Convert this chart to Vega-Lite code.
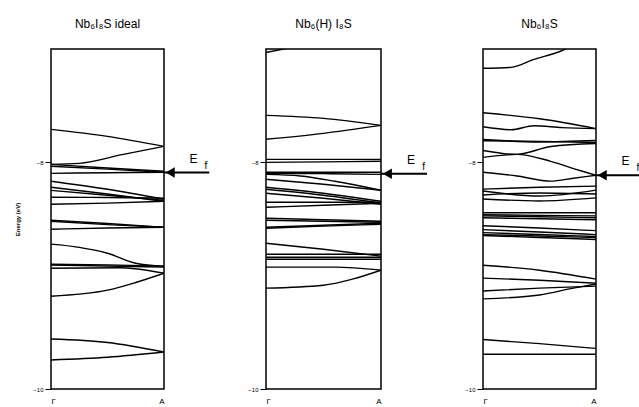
{
  "$schema": "https://vega.github.io/schema/vega-lite/v6.json",
  "background": "white",
  "padding": {"left": 14, "top": 17, "right": 0, "bottom": 0},
  "bounds": "flush",
  "spacing": 102,
  "config": {
    "view": {"stroke": "black", "strokeWidth": 1.5},
    "font": "Liberation Sans",
    "title": {"fontSize": 12, "fontWeight": "normal", "offset": 18, "color": "black", "font": "Liberation Sans"},
    "axis": {"labelColor": "black", "titleColor": "black", "tickColor": "black", "labelFont": "Liberation Sans", "titleFont": "Liberation Sans"}
  },
  "datasets": {
    "bands": [
      {"p":1,"b":"a","k":0,"e":-7.709},{"p":1,"b":"a","k":0.5,"e":-7.771},{"p":1,"b":"a","k":1,"e":-7.859},
      {"p":1,"b":"b","k":0,"e":-8.018},{"p":1,"b":"b","k":0.25,"e":-8.009},{"p":1,"b":"b","k":0.64,"e":-7.93},{"p":1,"b":"b","k":1,"e":-7.859},
      {"p":1,"b":"c","k":0,"e":-8.018},{"p":1,"b":"c","k":0.5,"e":-8.05},{"p":1,"b":"c","k":1,"e":-8.079},
      {"p":1,"b":"d","k":0,"e":-8.035},{"p":1,"b":"d","k":0.5,"e":-8.06},{"p":1,"b":"d","k":1,"e":-8.088},
      {"p":1,"b":"e","k":0,"e":-8.097},{"p":1,"b":"e","k":0.5,"e":-8.092},{"p":1,"b":"e","k":1,"e":-8.088},
      {"p":1,"b":"f","k":0,"e":-8.167},{"p":1,"b":"f","k":0.5,"e":-8.238},{"p":1,"b":"f","k":1,"e":-8.326},
      {"p":1,"b":"g","k":0,"e":-8.22},{"p":1,"b":"g","k":0.5,"e":-8.28},{"p":1,"b":"g","k":1,"e":-8.344},
      {"p":1,"b":"h","k":0,"e":-8.247},{"p":1,"b":"h","k":0.5,"e":-8.29},{"p":1,"b":"h","k":1,"e":-8.335},
      {"p":1,"b":"i","k":0,"e":-8.308},{"p":1,"b":"i","k":0.5,"e":-8.31},{"p":1,"b":"i","k":1,"e":-8.317},
      {"p":1,"b":"j","k":0,"e":-8.37},{"p":1,"b":"j","k":0.5,"e":-8.36},{"p":1,"b":"j","k":1,"e":-8.344},
      {"p":1,"b":"k","k":0,"e":-8.511},{"p":1,"b":"k","k":0.5,"e":-8.54},{"p":1,"b":"k","k":1,"e":-8.573},
      {"p":1,"b":"l","k":0,"e":-8.52},{"p":1,"b":"l","k":0.5,"e":-8.55},{"p":1,"b":"l","k":1,"e":-8.573},
      {"p":1,"b":"m","k":0,"e":-8.59},{"p":1,"b":"m","k":0.5,"e":-8.58},{"p":1,"b":"m","k":1,"e":-8.573},
      {"p":1,"b":"n","k":0,"e":-8.722},{"p":1,"b":"n","k":0.25,"e":-8.75},{"p":1,"b":"n","k":0.5,"e":-8.802},{"p":1,"b":"n","k":0.75,"e":-8.89},{"p":1,"b":"n","k":1,"e":-8.916},
      {"p":1,"b":"o","k":0,"e":-8.899},{"p":1,"b":"o","k":0.5,"e":-8.905},{"p":1,"b":"o","k":1,"e":-8.916},
      {"p":1,"b":"p","k":0,"e":-8.907},{"p":1,"b":"p","k":0.5,"e":-8.915},{"p":1,"b":"p","k":1,"e":-8.925},
      {"p":1,"b":"q","k":0,"e":-8.934},{"p":1,"b":"q","k":0.6,"e":-8.93},{"p":1,"b":"q","k":1,"e":-8.978},
      {"p":1,"b":"r","k":0,"e":-9.181},{"p":1,"b":"r","k":0.5,"e":-9.128},{"p":1,"b":"r","k":0.75,"e":-9.06},{"p":1,"b":"r","k":1,"e":-8.978},
      {"p":1,"b":"s","k":0,"e":-9.559},{"p":1,"b":"s","k":0.5,"e":-9.59},{"p":1,"b":"s","k":1,"e":-9.674},
      {"p":1,"b":"t","k":0,"e":-9.744},{"p":1,"b":"t","k":0.5,"e":-9.72},{"p":1,"b":"t","k":1,"e":-9.674},

      {"p":2,"b":"a","k":0,"e":-7.031},{"p":2,"b":"a","k":0.15,"e":-7.0},{"p":2,"b":"a","k":0.4,"e":-6.95},{"p":2,"b":"a","k":1,"e":-6.85},
      {"p":2,"b":"b","k":0,"e":-7.586},{"p":2,"b":"b","k":0.5,"e":-7.612},{"p":2,"b":"b","k":1,"e":-7.674},
      {"p":2,"b":"c","k":0,"e":-7.797},{"p":2,"b":"c","k":0.5,"e":-7.744},{"p":2,"b":"c","k":1,"e":-7.674},
      {"p":2,"b":"d","k":0,"e":-7.974},{"p":2,"b":"d","k":0.5,"e":-7.974},{"p":2,"b":"d","k":1,"e":-7.974},
      {"p":2,"b":"e","k":0,"e":-8.0},{"p":2,"b":"e","k":0.5,"e":-7.996},{"p":2,"b":"e","k":1,"e":-7.991},
      {"p":2,"b":"f","k":0,"e":-8.088},{"p":2,"b":"f","k":0.5,"e":-8.088},{"p":2,"b":"f","k":1,"e":-8.088},
      {"p":2,"b":"g","k":0,"e":-8.097},{"p":2,"b":"g","k":0.5,"e":-8.1},{"p":2,"b":"g","k":1,"e":-8.106},
      {"p":2,"b":"h","k":0,"e":-8.106},{"p":2,"b":"h","k":0.3,"e":-8.12},{"p":2,"b":"h","k":0.6,"e":-8.167},{"p":2,"b":"h","k":1,"e":-8.247},
      {"p":2,"b":"i","k":0,"e":-8.15},{"p":2,"b":"i","k":0.5,"e":-8.194},{"p":2,"b":"i","k":1,"e":-8.247},
      {"p":2,"b":"j","k":0,"e":-8.22},{"p":2,"b":"j","k":0.5,"e":-8.273},{"p":2,"b":"j","k":1,"e":-8.344},
      {"p":2,"b":"k","k":0,"e":-8.238},{"p":2,"b":"k","k":0.5,"e":-8.291},{"p":2,"b":"k","k":1,"e":-8.361},
      {"p":2,"b":"l","k":0,"e":-8.273},{"p":2,"b":"l","k":0.5,"e":-8.317},{"p":2,"b":"l","k":1,"e":-8.37},
      {"p":2,"b":"m","k":0,"e":-8.352},{"p":2,"b":"m","k":0.5,"e":-8.352},{"p":2,"b":"m","k":1,"e":-8.352},
      {"p":2,"b":"n","k":0,"e":-8.396},{"p":2,"b":"n","k":0.5,"e":-8.379},{"p":2,"b":"n","k":1,"e":-8.361},
      {"p":2,"b":"o","k":0,"e":-8.493},{"p":2,"b":"o","k":0.5,"e":-8.506},{"p":2,"b":"o","k":1,"e":-8.52},
      {"p":2,"b":"q","k":0,"e":-8.511},{"p":2,"b":"q","k":0.5,"e":-8.52},{"p":2,"b":"q","k":1,"e":-8.529},
      {"p":2,"b":"r","k":0,"e":-8.573},{"p":2,"b":"r","k":0.5,"e":-8.555},{"p":2,"b":"r","k":1,"e":-8.537},
      {"p":2,"b":"s","k":0,"e":-8.581},{"p":2,"b":"s","k":0.5,"e":-8.563},{"p":2,"b":"s","k":1,"e":-8.546},
      {"p":2,"b":"t","k":0,"e":-8.714},{"p":2,"b":"t","k":0.5,"e":-8.767},{"p":2,"b":"t","k":1,"e":-8.828},
      {"p":2,"b":"u","k":0,"e":-8.811},{"p":2,"b":"u","k":0.5,"e":-8.811},{"p":2,"b":"u","k":1,"e":-8.811},
      {"p":2,"b":"v","k":0,"e":-8.837},{"p":2,"b":"v","k":0.5,"e":-8.837},{"p":2,"b":"v","k":1,"e":-8.837},
      {"p":2,"b":"w","k":0,"e":-8.855},{"p":2,"b":"w","k":0.5,"e":-8.855},{"p":2,"b":"w","k":1,"e":-8.855},
      {"p":2,"b":"x","k":0,"e":-8.925},{"p":2,"b":"x","k":0.6,"e":-8.925},{"p":2,"b":"x","k":1,"e":-8.952},
      {"p":2,"b":"y","k":0,"e":-9.11},{"p":2,"b":"y","k":0.5,"e":-9.084},{"p":2,"b":"y","k":0.75,"e":-9.031},{"p":2,"b":"y","k":1,"e":-8.952},

      {"p":3,"b":"a","k":0,"e":-7.17},{"p":3,"b":"a","k":0.25,"e":-7.162},{"p":3,"b":"a","k":0.45,"e":-7.092},{"p":3,"b":"a","k":0.68,"e":-7.022},{"p":3,"b":"a","k":1,"e":-6.85},
      {"p":3,"b":"b","k":0,"e":-7.563},{"p":3,"b":"b","k":0.5,"e":-7.616},{"p":3,"b":"b","k":1,"e":-7.703},
      {"p":3,"b":"c","k":0,"e":-7.686},{"p":3,"b":"c","k":0.25,"e":-7.712},{"p":3,"b":"c","k":0.45,"e":-7.677},{"p":3,"b":"c","k":0.7,"e":-7.694},{"p":3,"b":"c","k":1,"e":-7.703},
      {"p":3,"b":"d","k":0,"e":-7.799},{"p":3,"b":"d","k":0.5,"e":-7.82},{"p":3,"b":"d","k":1,"e":-7.808},
      {"p":3,"b":"e","k":0,"e":-7.81},{"p":3,"b":"e","k":0.5,"e":-7.815},{"p":3,"b":"e","k":1,"e":-7.825},
      {"p":3,"b":"f","k":0,"e":-7.895},{"p":3,"b":"f","k":0.3,"e":-7.93},{"p":3,"b":"f","k":0.6,"e":-7.86},{"p":3,"b":"f","k":1,"e":-7.834},
      {"p":3,"b":"g","k":0,"e":-7.956},{"p":3,"b":"g","k":0.3,"e":-7.93},{"p":3,"b":"g","k":0.6,"e":-7.991},{"p":3,"b":"g","k":0.85,"e":-8.07},{"p":3,"b":"g","k":1,"e":-8.114},
      {"p":3,"b":"h","k":0,"e":-8.087},{"p":3,"b":"h","k":0.3,"e":-8.12},{"p":3,"b":"h","k":0.6,"e":-8.166},{"p":3,"b":"h","k":0.8,"e":-8.14},{"p":3,"b":"h","k":1,"e":-8.114},
      {"p":3,"b":"i","k":0,"e":-8.236},{"p":3,"b":"i","k":0.5,"e":-8.22},{"p":3,"b":"i","k":1,"e":-8.21},
      {"p":3,"b":"j","k":0,"e":-8.253},{"p":3,"b":"j","k":0.5,"e":-8.297},{"p":3,"b":"j","k":1,"e":-8.245},
      {"p":3,"b":"k","k":0,"e":-8.288},{"p":3,"b":"k","k":0.5,"e":-8.27},{"p":3,"b":"k","k":1,"e":-8.279},
      {"p":3,"b":"l","k":0,"e":-8.323},{"p":3,"b":"l","k":0.5,"e":-8.341},{"p":3,"b":"l","k":1,"e":-8.314},
      {"p":3,"b":"m","k":0,"e":-8.445},{"p":3,"b":"m","k":0.5,"e":-8.445},{"p":3,"b":"m","k":1,"e":-8.445},
      {"p":3,"b":"n","k":0,"e":-8.463},{"p":3,"b":"n","k":0.5,"e":-8.468},{"p":3,"b":"n","k":1,"e":-8.472},
      {"p":3,"b":"o","k":0,"e":-8.472},{"p":3,"b":"o","k":0.5,"e":-8.48},{"p":3,"b":"o","k":1,"e":-8.489},
      {"p":3,"b":"q","k":0,"e":-8.489},{"p":3,"b":"q","k":0.5,"e":-8.498},{"p":3,"b":"q","k":1,"e":-8.507},
      {"p":3,"b":"r","k":0,"e":-8.559},{"p":3,"b":"r","k":0.5,"e":-8.58},{"p":3,"b":"r","k":1,"e":-8.603},
      {"p":3,"b":"s","k":0,"e":-8.594},{"p":3,"b":"s","k":0.5,"e":-8.615},{"p":3,"b":"s","k":1,"e":-8.638},
      {"p":3,"b":"t","k":0,"e":-8.62},{"p":3,"b":"t","k":0.5,"e":-8.637},{"p":3,"b":"t","k":1,"e":-8.655},
      {"p":3,"b":"u","k":0,"e":-8.638},{"p":3,"b":"u","k":0.5,"e":-8.65},{"p":3,"b":"u","k":1,"e":-8.664},
      {"p":3,"b":"v","k":0,"e":-8.646},{"p":3,"b":"v","k":0.5,"e":-8.663},{"p":3,"b":"v","k":1,"e":-8.681},
      {"p":3,"b":"w","k":0,"e":-8.908},{"p":3,"b":"w","k":0.5,"e":-8.952},{"p":3,"b":"w","k":1,"e":-9.031},
      {"p":3,"b":"x","k":0,"e":-9.022},{"p":3,"b":"x","k":0.5,"e":-9.04},{"p":3,"b":"x","k":1,"e":-9.066},
      {"p":3,"b":"y","k":0,"e":-9.135},{"p":3,"b":"y","k":0.5,"e":-9.11},{"p":3,"b":"y","k":1,"e":-9.092},
      {"p":3,"b":"z","k":0,"e":-9.205},{"p":3,"b":"z","k":0.5,"e":-9.17},{"p":3,"b":"z","k":0.8,"e":-9.11},{"p":3,"b":"z","k":1,"e":-9.074},
      {"p":3,"b":"za","k":0,"e":-9.563},{"p":3,"b":"za","k":0.5,"e":-9.6},{"p":3,"b":"za","k":1,"e":-9.642},
      {"p":3,"b":"zb","k":0,"e":-9.694},{"p":3,"b":"zb","k":0.5,"e":-9.694},{"p":3,"b":"zb","k":1,"e":-9.694}
    ],
    "fermi": [{"p":1,"ef":-8.09},{"p":2,"ef":-8.10},{"p":3,"ef":-8.114}]
  },
  "hconcat": [
    {
      "width": 113, "height": 340,
      "title": {"text": "Nb₆I₈S ideal"},
      "layer": [
        {"data": {"name": "bands"}, "transform": [{"filter": "datum.p == 1"}],
         "mark": {"type": "line", "color": "black", "strokeWidth": 1.4, "interpolate": "monotone", "clip": true},
         "encoding": {
           "x": {"field": "k", "type": "quantitative", "scale": {"domain": [0, 1]}, "axis": {"values": [0, 1], "labelExpr": "datum.value == 0 ? 'Γ' : 'A'", "ticks": false, "domain": false, "grid": false, "title": null, "labelPadding": 8, "labelFontSize": 8}},
           "y": {"field": "e", "type": "quantitative", "scale": {"domain": [-10, -7]}, "axis": {"values": [-8, -10], "format": "d", "title": "Energy (eV)", "grid": false, "domain": false, "tickSize": 6, "labelFontSize": 6, "titleFontSize": 6, "titlePadding": 12}},
           "detail": {"field": "b"}}},
        {"data": {"name": "fermi"}, "transform": [{"filter": "datum.p == 1"}],
         "mark": {"type": "rule", "color": "black", "strokeWidth": 2},
         "encoding": {"x": {"datum": 1}, "x2": {"datum": 1.4}, "y": {"field": "ef", "type": "quantitative"}}},
        {"data": {"name": "fermi"}, "transform": [{"filter": "datum.p == 1"}],
         "mark": {"type": "point", "shape": "triangle-left", "filled": true, "color": "black", "size": 110, "opacity": 1},
         "encoding": {"x": {"datum": 1.055}, "y": {"field": "ef", "type": "quantitative"}}},
        {"data": {"name": "fermi"}, "transform": [{"filter": "datum.p == 1"}],
         "mark": {"type": "text", "text": "E", "fontSize": 12, "dy": -14, "color": "black"},
         "encoding": {"x": {"datum": 1.26}, "y": {"field": "ef", "type": "quantitative"}}},
        {"data": {"name": "fermi"}, "transform": [{"filter": "datum.p == 1"}],
         "mark": {"type": "text", "text": "f", "fontSize": 10, "dy": -7, "color": "black"},
         "encoding": {"x": {"datum": 1.37}, "y": {"field": "ef", "type": "quantitative"}}}
      ]
    },
    {
      "width": 115, "height": 340,
      "title": {"text": "Nb₆(H) I₈S"},
      "layer": [
        {"data": {"name": "bands"}, "transform": [{"filter": "datum.p == 2"}],
         "mark": {"type": "line", "color": "black", "strokeWidth": 1.4, "interpolate": "monotone", "clip": true},
         "encoding": {
           "x": {"field": "k", "type": "quantitative", "scale": {"domain": [0, 1]}, "axis": {"values": [0, 1], "labelExpr": "datum.value == 0 ? 'Γ' : 'A'", "ticks": false, "domain": false, "grid": false, "title": null, "labelPadding": 8, "labelFontSize": 8}},
           "y": {"field": "e", "type": "quantitative", "scale": {"domain": [-10, -7]}, "axis": {"values": [-8, -10], "format": "d", "title": null, "grid": false, "domain": false, "tickSize": 6, "labelFontSize": 6}},
           "detail": {"field": "b"}}},
        {"data": {"name": "fermi"}, "transform": [{"filter": "datum.p == 2"}],
         "mark": {"type": "rule", "color": "black", "strokeWidth": 2},
         "encoding": {"x": {"datum": 1}, "x2": {"datum": 1.4}, "y": {"field": "ef", "type": "quantitative"}}},
        {"data": {"name": "fermi"}, "transform": [{"filter": "datum.p == 2"}],
         "mark": {"type": "point", "shape": "triangle-left", "filled": true, "color": "black", "size": 110, "opacity": 1},
         "encoding": {"x": {"datum": 1.055}, "y": {"field": "ef", "type": "quantitative"}}},
        {"data": {"name": "fermi"}, "transform": [{"filter": "datum.p == 2"}],
         "mark": {"type": "text", "text": "E", "fontSize": 12, "dy": -14, "color": "black"},
         "encoding": {"x": {"datum": 1.26}, "y": {"field": "ef", "type": "quantitative"}}},
        {"data": {"name": "fermi"}, "transform": [{"filter": "datum.p == 2"}],
         "mark": {"type": "text", "text": "f", "fontSize": 10, "dy": -7, "color": "black"},
         "encoding": {"x": {"datum": 1.37}, "y": {"field": "ef", "type": "quantitative"}}}
      ]
    },
    {
      "width": 113, "height": 340,
      "title": {"text": "Nb₆I₈S"},
      "layer": [
        {"data": {"name": "bands"}, "transform": [{"filter": "datum.p == 3"}],
         "mark": {"type": "line", "color": "black", "strokeWidth": 1.4, "interpolate": "monotone", "clip": true},
         "encoding": {
           "x": {"field": "k", "type": "quantitative", "scale": {"domain": [0, 1]}, "axis": {"values": [0, 1], "labelExpr": "datum.value == 0 ? 'Γ' : 'A'", "ticks": false, "domain": false, "grid": false, "title": null, "labelPadding": 8, "labelFontSize": 8}},
           "y": {"field": "e", "type": "quantitative", "scale": {"domain": [-10, -7]}, "axis": {"values": [-8, -10], "format": "d", "title": null, "grid": false, "domain": false, "tickSize": 6, "labelFontSize": 6}},
           "detail": {"field": "b"}}},
        {"data": {"name": "fermi"}, "transform": [{"filter": "datum.p == 3"}],
         "mark": {"type": "rule", "color": "black", "strokeWidth": 2},
         "encoding": {"x": {"datum": 1}, "x2": {"datum": 1.4}, "y": {"field": "ef", "type": "quantitative"}}},
        {"data": {"name": "fermi"}, "transform": [{"filter": "datum.p == 3"}],
         "mark": {"type": "point", "shape": "triangle-left", "filled": true, "color": "black", "size": 110, "opacity": 1},
         "encoding": {"x": {"datum": 1.055}, "y": {"field": "ef", "type": "quantitative"}}},
        {"data": {"name": "fermi"}, "transform": [{"filter": "datum.p == 3"}],
         "mark": {"type": "text", "text": "E", "fontSize": 12, "dy": -14, "color": "black"},
         "encoding": {"x": {"datum": 1.26}, "y": {"field": "ef", "type": "quantitative"}}},
        {"data": {"name": "fermi"}, "transform": [{"filter": "datum.p == 3"}],
         "mark": {"type": "text", "text": "f", "fontSize": 10, "dy": -7, "color": "black"},
         "encoding": {"x": {"datum": 1.37}, "y": {"field": "ef", "type": "quantitative"}}}
      ]
    }
  ]
}
